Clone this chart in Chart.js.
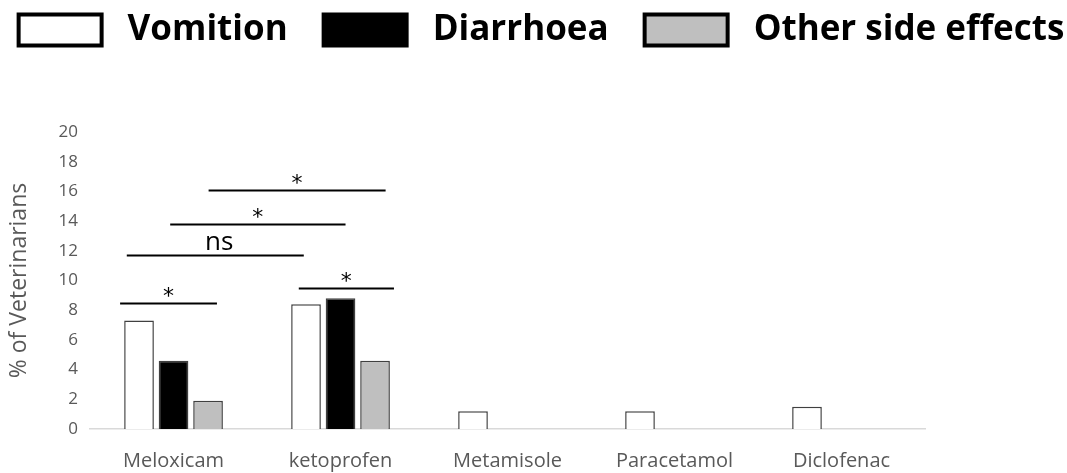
<!DOCTYPE html>
<html>
<head>
<meta charset="utf-8">
<script src="https://cdn.jsdelivr.net/npm/chart.js@4.4.1/dist/chart.umd.min.js"></script>
<style>
  html, body { margin: 0; padding: 0; background: #fff; }
  #wrap { width: 1067px; height: 473px; }
</style>
</head>
<body>
<div id="wrap"><canvas id="chart" width="1067" height="473"></canvas></div>
<script>
// drugs on the x axis
const drugs = ['Meloxicam', 'ketoprofen', 'Metamisole', 'Paracetamol', 'Diclofenac'];

// % of veterinarians reporting each side effect
const vomition = [7.3, 8.4, 1.2, 1.2, 1.5];
const diarrhoea = [4.6, 8.8, 0, 0, 0];
const otherEffects = [1.9, 4.6, 0, 0, 0];

const yTicks = [0, 2, 4, 6, 8, 10, 12, 14, 16, 18, 20];

// significance brackets: level (y value), from/to in category units, label
const sigLevels = [8.5, 11.7, 13.8, 16.1, 9.5];
const sigFrom = [-0.32, -0.28, -0.02, 0.21, 0.75];
const sigTo = [0.26, 0.78, 1.03, 1.27, 1.32];
const sigLabels = ['*', 'ns', '*', '*', '*'];

const sigPlugin = {
    id: 'sigBrackets',
    afterDatasetsDraw(chart) {
        const { ctx, scales: { x, y } } = chart;
        ctx.save();
        ctx.strokeStyle = '#000';
        ctx.fillStyle = '#000';
        ctx.lineWidth = 2;
        sigLevels.forEach((level, i) => {
            const py = Math.round(y.getPixelForValue(level)) + 0.5;
            const x1 = x.getPixelForValue(sigFrom[i]);
            const x2 = x.getPixelForValue(sigTo[i]);
            ctx.beginPath();
            ctx.moveTo(x1, py);
            ctx.lineTo(x2, py);
            ctx.stroke();
            const ns = sigLabels[i] === 'ns';
            ctx.font = ns ? '26px "Open Sans", sans-serif' : '22px "DejaVu Sans", sans-serif';
            ctx.textAlign = 'center';
            ctx.textBaseline = 'bottom';
            ctx.fillText(sigLabels[i], (x1 + x2) / 2 + (ns ? 4 : 0), ns ? py : py + 5);
        });
        ctx.restore();
    }
};

// big legend strip across the top, drawn by hand so it can span the full width
const legendPlugin = {
    id: 'bigLegend',
    afterDraw(chart) {
        const { ctx, width } = chart;
        const items = chart.data.datasets;
        const boxW = 83, boxH = 31, boxGap = 26, itemGap = 36;
        const midY = 30;
        ctx.save();
        ctx.font = 'bold 35px "Open Sans", sans-serif';
        const widths = items.map(ds => ctx.measureText(ds.label).width);
        const total = widths.reduce((a, b) => a + b, 0) + items.length * (boxW + boxGap) + (items.length - 1) * itemGap;
        let cx = (width - total) / 2 + 8;
        items.forEach((ds, i) => {
            ctx.fillStyle = ds.backgroundColor;
            ctx.fillRect(cx, midY - boxH / 2, boxW, boxH);
            ctx.strokeStyle = '#000';
            ctx.lineWidth = 4;
            ctx.strokeRect(cx, midY - boxH / 2, boxW, boxH);
            cx += boxW + boxGap;
            ctx.fillStyle = '#000';
            ctx.textAlign = 'left';
            ctx.textBaseline = 'middle';
            ctx.fillText(ds.label, cx, midY);
            cx += widths[i] + itemGap;
        });
        ctx.restore();
    }
};

new Chart(document.getElementById('chart'), {
    type: 'bar',
    data: {
        labels: drugs,
        datasets: [
            {
                label: 'Vomition',
                data: vomition,
                backgroundColor: '#ffffff',
                borderColor: '#404040',
                borderWidth: 1.5
            },
            {
                label: 'Diarrhoea',
                data: diarrhoea,
                backgroundColor: '#000000',
                borderColor: '#404040',
                borderWidth: 1.5
            },
            {
                label: 'Other side effects',
                data: otherEffects,
                backgroundColor: '#bfbfbf',
                borderColor: '#404040',
                borderWidth: 1.5
            }
        ]
    },
    options: {
        responsive: false,
        animation: false,
        datasets: {
            bar: { categoryPercentage: 0.62, barPercentage: 0.86, skipNull: false }
        },
        layout: { padding: { left: 6, right: 0, top: 132, bottom: -20 } },
        plugins: {
            tooltip: { enabled: false },
            legend: { display: false }
        },
        scales: {
            x: {
                grid: { display: false, drawTicks: false },
                border: { display: true, color: '#d9d9d9', width: 1.5 },
                ticks: {
                    color: '#595959',
                    font: { family: '"Open Sans", sans-serif', size: 20 },
                    padding: 20
                }
            },
            y: {
                min: 0,
                max: 20,
                afterBuildTicks(axis) {
                    axis.ticks = yTicks.map(v => ({ value: v }));
                },
                grid: { display: false, drawTicks: false },
                border: { display: false },
                ticks: {
                    color: '#595959',
                    font: { family: '"Open Sans", sans-serif', size: 17 },
                    padding: 12
                },
                title: {
                    display: true,
                    text: '% of Veterinarians',
                    color: '#595959',
                    font: { family: '"Open Sans", sans-serif', size: 23 },
                    padding: { top: 0, bottom: 13 }
                }
            },
            // empty right-hand strip, keeps the plot clear of the right edge
            spacer: {
                position: 'right',
                type: 'linear',
                grid: { display: false, drawTicks: false },
                border: { display: false },
                ticks: { display: false },
                afterFit(axis) {
                    axis.width = 142;
                }
            }
        }
    },
    plugins: [sigPlugin, legendPlugin]
});
</script>
</body>
</html>
